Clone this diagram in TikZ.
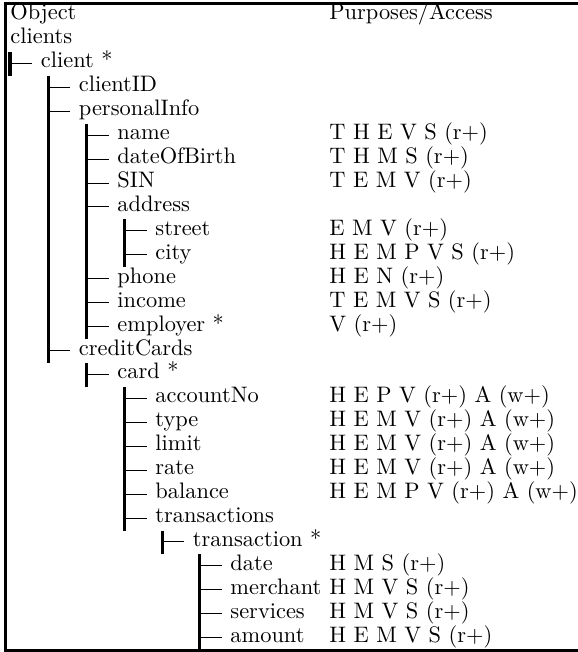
\documentclass[tikz,border=0pt]{standalone}
\newcommand\R[1]{20+23.93*#1}
\begin{document}
\begin{tikzpicture}[x=0.4464pt,y=-0.4464pt,
  lbl/.style={anchor=base west,inner xsep=3.8pt,inner ysep=0pt,text height=6pt,text depth=2pt,font=\fontsize{10}{12}\selectfont},
  hl/.style={line width=0.45pt},
  vbar/.style={line width=1.34pt},
  frame/.style={line width=0.9pt}]
\useasboundingbox (0,0) rectangle (578,652);
\draw[frame] (578,3.5) -- (5.5,3.5) -- (5.5,650.5) -- (578,650.5);
% level x: 10, 48, 86.5, 124.5, 162, 199.5 ; nodes at bar+22
\node[lbl] (n0) at (1.5,{\R{0}}) {Object};
\node[lbl] (v0) at (320.5,{\R{0}}) {Purposes/Access};
\node[lbl] (n1) at (1.5,{\R{1}}) {clients};
\node[lbl] (n2) at (32,{\R{2}}) {client *};
\node[lbl] (n3) at (70,{\R{3}}) {clientID};
\node[lbl] (n4) at (70,{\R{4}}) {personalInfo};
\node[lbl] (n5) at (108.5,{\R{5}}) {name};
\node[lbl] (n6) at (108.5,{\R{6}}) {dateOfBirth};
\node[lbl] (n7) at (108.5,{\R{7}}) {SIN};
\node[lbl] (n8) at (108.5,{\R{8}}) {address};
\node[lbl] (n9) at (146.5,{\R{9}}) {street};
\node[lbl] (n10) at (146.5,{\R{10}}) {city};
\node[lbl] (n11) at (108.5,{\R{11}}) {phone};
\node[lbl] (n12) at (108.5,{\R{12}}) {income};
\node[lbl] (n13) at (108.5,{\R{13}}) {employer *};
\node[lbl] (n14) at (70,{\R{14}}) {creditCards};
\node[lbl] (n15) at (108.5,{\R{15}}) {card *};
\node[lbl] (n16) at (146.5,{\R{16}}) {accountNo};
\node[lbl] (n17) at (146.5,{\R{17}}) {type};
\node[lbl] (n18) at (146.5,{\R{18}}) {limit};
\node[lbl] (n19) at (146.5,{\R{19}}) {rate};
\node[lbl] (n20) at (146.5,{\R{20}}) {balance};
\node[lbl] (n21) at (146.5,{\R{21}}) {transactions};
\node[lbl] (n22) at (184,{\R{22}}) {transaction *};
\node[lbl] (n23) at (221.5,{\R{23}}) {date};
\node[lbl] (n24) at (221.5,{\R{24}}) {merchant};
\node[lbl] (n25) at (221.5,{\R{25}}) {services};
\node[lbl] (n26) at (221.5,{\R{26}}) {amount};
% access column
\node[lbl] (v5) at (320.5,{\R{5}}) {T H E V S (r+)};
\node[lbl] (v6) at (320.5,{\R{6}}) {T H M S (r+)};
\node[lbl] (v7) at (320.5,{\R{7}}) {T E M V (r+)};
\node[lbl] (v9) at (320.5,{\R{9}}) {E M V (r+)};
\node[lbl] (v10) at (320.5,{\R{10}}) {H E M P V S (r+)};
\node[lbl] (v11) at (320.5,{\R{11}}) {H E N (r+)};
\node[lbl] (v12) at (320.5,{\R{12}}) {T E M V S (r+)};
\node[lbl] (v13) at (320.5,{\R{13}}) {V (r+)};
\node[lbl] (v16) at (320.5,{\R{16}}) {H E P V (r+) A (w+)};
\node[lbl] (v17) at (320.5,{\R{17}}) {H E M V (r+) A (w+)};
\node[lbl] (v18) at (320.5,{\R{18}}) {H E M V (r+) A (w+)};
\node[lbl] (v19) at (320.5,{\R{19}}) {H E M V (r+) A (w+)};
\node[lbl] (v20) at (320.5,{\R{20}}) {H E M P V (r+) A (w+)};
\node[lbl] (v23) at (320.5,{\R{23}}) {H M S (r+)};
\node[lbl] (v24) at (320.5,{\R{24}}) {H M V S (r+)};
\node[lbl] (v25) at (320.5,{\R{25}}) {H M V S (r+)};
\node[lbl] (v26) at (320.5,{\R{26}}) {H E M V S (r+)};
% bars
\coordinate (At) at (10,{\R{1}+8});   \coordinate (Ab) at (10,{\R{2}+8});
\coordinate (Bt) at (48,{\R{2}+8});   \coordinate (Bb) at (48,{\R{14}+8});
\coordinate (Ct) at (86.5,{\R{4}+8}); \coordinate (Cb) at (86.5,{\R{13}+8});
\coordinate (Dt) at (124.5,{\R{8}+8});\coordinate (Db) at (124.5,{\R{10}+8});
\coordinate (Et) at (86.5,{\R{14}+8});\coordinate (Eb) at (86.5,{\R{15}+8});
\coordinate (Ft) at (124.5,{\R{15}+8});\coordinate (Fb) at (124.5,{\R{21}+8});
\coordinate (Gt) at (162,{\R{21}+8}); \coordinate (Gb) at (162,{\R{22}+8});
\coordinate (Ht) at (199.5,{\R{22}+8});\coordinate (Hb) at (199.5,{\R{26}+8});
\foreach \b in {A,B,C,D,E,F,G,H} \draw[vbar] (\b t) -- (\b b);
% horizontal connectors
\draw[hl] (n2.west) -- (n2.west -| At);
\foreach \n in {3,4,14} \draw[hl] (n\n.west) -- (n\n.west -| Bt);
\foreach \n in {5,6,7,8,11,12,13} \draw[hl] (n\n.west) -- (n\n.west -| Ct);
\foreach \n in {9,10} \draw[hl] (n\n.west) -- (n\n.west -| Dt);
\draw[hl] (n15.west) -- (n15.west -| Et);
\foreach \n in {16,17,18,19,20,21} \draw[hl] (n\n.west) -- (n\n.west -| Ft);
\draw[hl] (n22.west) -- (n22.west -| Gt);
\foreach \n in {23,24,25,26} \draw[hl] (n\n.west) -- (n\n.west -| Ht);
\end{tikzpicture}
\end{document}
